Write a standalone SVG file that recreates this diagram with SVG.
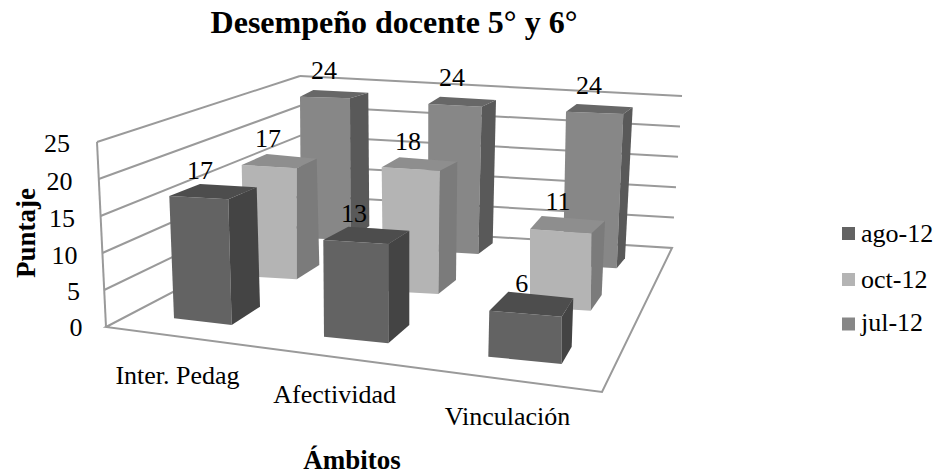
<svg xmlns="http://www.w3.org/2000/svg" width="942" height="475" viewBox="0 0 942 475" font-family="'Liberation Serif', 'Times New Roman', serif">
<style>
text{font-family:'Liberation Serif','Times New Roman',serif;fill:#000}
.lbl{font-size:26px;text-anchor:middle}
.tick{font-size:26px;text-anchor:end}
.grid{stroke:#9a9a9a;stroke-width:2;fill:none}
.jf{fill:#878787}.jt{fill:#676767}.js{fill:#595959}
.of{fill:#b4b4b4}.ot{fill:#8e8e8e}.os{fill:#7b7b7b}
.af{fill:#636363}.at{fill:#4d4d4d}.as{fill:#444444}
</style>
<rect width="942" height="475" fill="#ffffff"/>
<text x="394" y="33" font-size="32" font-weight="bold" text-anchor="middle">Desempeño docente 5° y 6°</text>
<g id="axes">
  <g id="back-wall" class="grid">
    <line x1="300" y1="76" x2="682" y2="96"/>
    <line x1="300.2" y1="105.8" x2="680" y2="126.4"/>
    <line x1="300.4" y1="135.6" x2="678" y2="156.8"/>
    <line x1="300.6" y1="165.4" x2="676" y2="187.2"/>
    <line x1="300.8" y1="195.2" x2="674" y2="217.6"/>
  </g>
  <g id="left-wall" class="grid">
    <line x1="97" y1="142" x2="106" y2="327"/>
    <line x1="97" y1="142" x2="300" y2="76"/>
    <line x1="98.8" y1="179" x2="300.2" y2="105.8"/>
    <line x1="100.6" y1="216" x2="300.4" y2="135.6"/>
    <line x1="102.4" y1="253" x2="300.6" y2="165.4"/>
    <line x1="104.2" y1="290" x2="300.8" y2="195.2"/>
  </g>
  <g id="floor" class="grid">
    <polygon points="106,327 301,225 672,248 602,392"/>
  </g>
  <g id="y-ticks" class="tick">
    <text x="70" y="151.5">25</text>
    <text x="72.5" y="189.5">20</text>
    <text x="75" y="226.5">15</text>
    <text x="77.5" y="263.5">10</text>
    <text x="80" y="300">5</text>
    <text x="82.5" y="335.5">0</text>
  </g>
  <text transform="translate(35,233) rotate(-90)" font-size="27" font-weight="bold" text-anchor="middle">Puntaje</text>
  <g id="x-labels" class="lbl">
    <text x="177.5" y="384">Inter. Pedag</text>
    <text x="334.7" y="403">Afectividad</text>
    <text x="507.5" y="425">Vinculación</text>
  </g>
  <text x="352" y="469" font-size="27" font-weight="bold" text-anchor="middle">Ámbitos</text>
</g>
<g id="series-jul">
  <g id="bar-jul-inter">
    <polygon class="jf" points="300,96.7 350,98.3 350.5,240 301,238"/>
    <polygon class="jt" points="300,96.7 313.3,90 368.3,92.7 350,98.3"/>
    <polygon class="js" points="350,98.3 368.3,92.7 369.3,226 350.5,240"/>
  </g>
  <g id="bar-jul-afect">
    <polygon class="jf" points="428.3,104 481.7,106.7 478.3,254 428,251"/>
    <polygon class="jt" points="428.3,104 440,96.7 496,100 481.7,106.7"/>
    <polygon class="js" points="481.7,106.7 496,100 492.7,243.3 478.3,254"/>
  </g>
  <g id="bar-jul-vinc">
    <polygon class="jf" points="566,111.7 623.3,114 616.7,268.3 563,265"/>
    <polygon class="jt" points="566,111.7 576.7,104 632.7,107.3 623.3,114"/>
    <polygon class="js" points="623.3,114 632.7,107.3 625,258.3 616.7,268.3"/>
  </g>
</g>
<g id="series-oct">
  <g id="bar-oct-inter">
    <polygon class="of" points="241.7,165 296.7,168.3 296.7,279.3 244,276"/>
    <polygon class="ot" points="241.7,165 266.7,154 316.7,158.7 296.7,168.3"/>
    <polygon class="os" points="296.7,168.3 316.7,158.7 319.3,265 296.7,279.3"/>
  </g>
  <g id="bar-oct-afect">
    <polygon class="of" points="381.7,167.3 440,170.7 438.3,294 383,291"/>
    <polygon class="ot" points="381.7,167.3 399.3,157.3 457.3,161.7 440,170.7"/>
    <polygon class="os" points="440,170.7 457.3,161.7 456,280 438.3,294"/>
  </g>
  <g id="bar-oct-vinc">
    <polygon class="of" points="530,229.3 591.7,233.3 590.7,310.7 530,307"/>
    <polygon class="ot" points="530,229.3 541.7,216 605,221 591.7,233.3"/>
    <polygon class="os" points="591.7,233.3 605,221 601.7,295 590.7,310.7"/>
  </g>
</g>
<g id="series-ago">
  <g id="bar-ago-inter">
    <polygon class="af" points="169.3,196 228.3,199.3 231.7,325 174,318.3"/>
    <polygon class="at" points="169.3,196 200,184 256.7,187.3 228.3,199.3"/>
    <polygon class="as" points="228.3,199.3 256.7,187.3 260,306.7 231.7,325"/>
  </g>
  <g id="bar-ago-afect">
    <polygon class="af" points="323.3,240 388.3,244 388.3,343.3 324,336.7"/>
    <polygon class="at" points="323.3,240 348.3,226.7 409.3,230.7 388.3,244"/>
    <polygon class="as" points="388.3,244 409.3,230.7 409.3,325 388.3,343.3"/>
  </g>
  <g id="bar-ago-vinc">
    <polygon class="af" points="489.3,310.7 561.7,316.7 561.7,364 488.3,356.7"/>
    <polygon class="at" points="489.3,310.7 508.3,291.7 573.3,298.3 561.7,316.7"/>
    <polygon class="as" points="561.7,316.7 573.3,298.3 571.7,346.7 561.7,364"/>
  </g>
</g>
<g id="data-labels" class="lbl">
  <text x="324" y="78.5">24</text>
  <text x="452" y="86">24</text>
  <text x="589" y="93.5">24</text>
  <text x="268" y="147">17</text>
  <text x="408" y="150">18</text>
  <text x="558" y="210">11</text>
  <text x="200" y="178.5">17</text>
  <text x="354" y="222">13</text>
  <text x="521.7" y="292">6</text>
</g>
<g id="legend">
  <g id="legend-ago">
    <rect x="842" y="227" width="13" height="13" fill="#636363"/>
    <text x="861" y="242" font-size="26">ago-12</text>
  </g>
  <g id="legend-oct">
    <rect x="842" y="273" width="13" height="13" fill="#b4b4b4"/>
    <text x="861" y="287.5" font-size="26">oct-12</text>
  </g>
  <g id="legend-jul">
    <rect x="842" y="317.5" width="13" height="13" fill="#878787"/>
    <text x="861" y="331" font-size="26">jul-12</text>
  </g>
</g>
</svg>
